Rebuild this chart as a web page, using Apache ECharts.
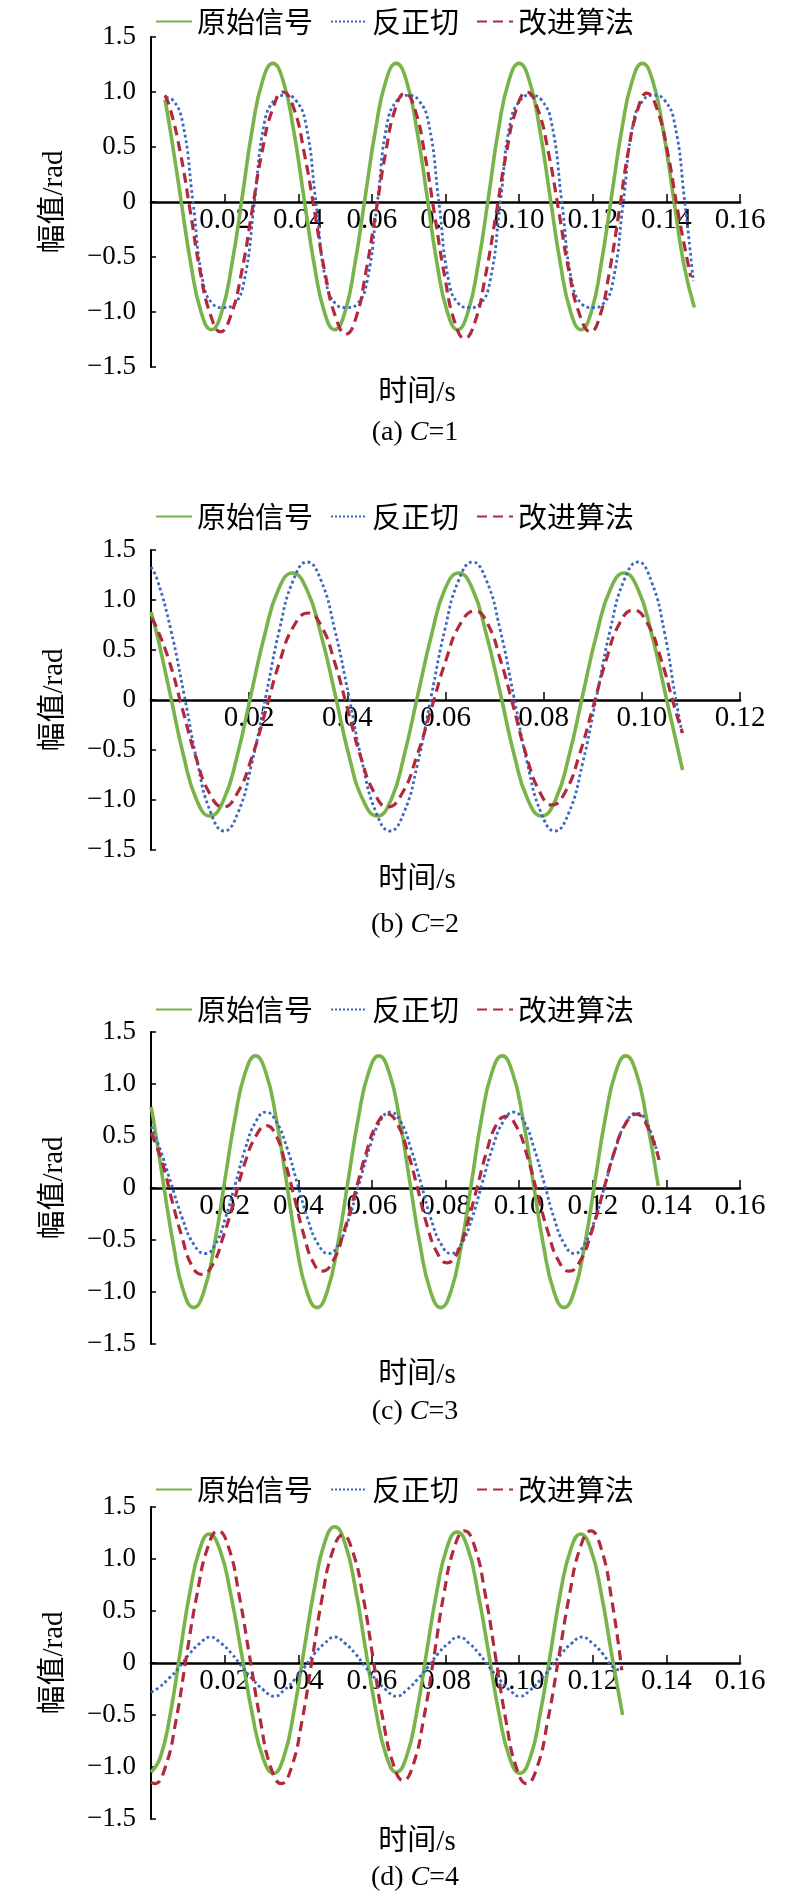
<!DOCTYPE html>
<html>
<head>
<meta charset="utf-8">
<script src="https://cdn.jsdelivr.net/npm/echarts@6.0.0/dist/echarts.min.js"></script>
<style>
html, body { margin: 0; padding: 0; background: #fff; }
#main { width: 800px; height: 1897px; }
</style>
</head>
<body>
<div id="main"></div>
<script>
// 图例名称
var names = ['原始信号', '反正切', '改进算法'];
var panelTags = ['a', 'b', 'c', 'd'];
var cValues = [1, 2, 3, 4];
var xMaxList = [0.16, 0.12, 0.16, 0.16];

// (a) C=1  [时间 s, 幅值 rad]
var origA = [[0.0038,0.93],[0.0052,0.66],[0.0080,0.05],[0.0108,-0.56],[0.0136,-1.00],[0.0164,-1.16],
  [0.0192,-1.00],[0.0220,-0.56],[0.0248,0.05],[0.0275,0.66],[0.0303,1.10],[0.0331,1.26],
  [0.0359,1.10],[0.0387,0.66],[0.0415,0.05],[0.0443,-0.56],[0.0471,-1.00],[0.0499,-1.16],
  [0.0527,-1.00],[0.0554,-0.56],[0.0582,0.05],[0.0610,0.66],[0.0638,1.10],[0.0666,1.26],
  [0.0694,1.10],[0.0722,0.66],[0.0750,0.05],[0.0777,-0.56],[0.0805,-1.00],[0.0833,-1.16],
  [0.0861,-1.00],[0.0889,-0.56],[0.0917,0.05],[0.0944,0.66],[0.0972,1.10],[0.1000,1.26],
  [0.1028,1.10],[0.1056,0.66],[0.1084,0.05],[0.1112,-0.56],[0.1140,-1.00],[0.1168,-1.16],
  [0.1196,-1.00],[0.1223,-0.56],[0.1251,0.05],[0.1279,0.66],[0.1307,1.10],[0.1335,1.26],
  [0.1363,1.10],[0.1391,0.66],[0.1419,0.05],[0.1447,-0.56],[0.1476,-0.96]];
var atanA = [[0.0040,0.95],[0.0058,0.93],[0.0086,0.72],[0.0114,0],[0.0141,-0.72],[0.0169,-0.93],[0.0197,-0.96],[0.0225,-0.93],
  [0.0253,-0.72],[0.0281,0],[0.0308,0.72],[0.0336,0.93],[0.0364,0.97],[0.0392,0.93],[0.0420,0.72],[0.0448,0],
  [0.0475,-0.72],[0.0503,-0.93],[0.0531,-0.96],[0.0559,-0.93],[0.0587,-0.72],[0.0615,0],[0.0642,0.72],[0.0670,0.93],
  [0.0698,0.97],[0.0726,0.93],[0.0754,0.72],[0.0782,0],[0.0809,-0.72],[0.0837,-0.93],[0.0865,-0.96],[0.0893,-0.93],
  [0.0921,-0.72],[0.0949,0],[0.0976,0.72],[0.1004,0.93],[0.1032,0.97],[0.1060,0.93],[0.1088,0.72],[0.1116,0],
  [0.1143,-0.72],[0.1171,-0.93],[0.1199,-0.96],[0.1227,-0.93],[0.1255,-0.72],[0.1283,0],[0.1310,0.72],[0.1338,0.93],
  [0.1366,0.97],[0.1394,0.93],[0.1422,0.72],[0.1450,0],[0.1473,-0.72]];
var impA = [[0.0038,0.97],[0.0052,0.85],[0.0079,0.46],[0.0107,-0.09],[0.0134,-0.64],[0.0162,-1.03],[0.0189,-1.18],
  [0.0217,-1.03],[0.0246,-0.64],[0.0274,-0.09],[0.0302,0.46],[0.0331,0.85],[0.0359,1.0],
  [0.0388,0.85],[0.0416,0.45],[0.0445,-0.10],[0.0473,-0.65],[0.0502,-1.05],[0.0530,-1.2],
  [0.0557,-1.05],[0.0583,-0.65],[0.0610,-0.11],[0.0637,0.44],[0.0663,0.84],[0.0690,0.99],
  [0.0717,0.84],[0.0744,0.43],[0.0771,-0.13],[0.0798,-0.68],[0.0825,-1.09],[0.0852,-1.24],
  [0.0880,-1.09],[0.0908,-0.68],[0.0937,-0.12],[0.0965,0.44],[0.0993,0.85],[0.1021,1.0],
  [0.1050,0.85],[0.1079,0.46],[0.1108,-0.09],[0.1136,-0.64],[0.1165,-1.03],[0.1194,-1.18],
  [0.1220,-1.03],[0.1245,-0.64],[0.1271,-0.10],[0.1296,0.45],[0.1322,0.84],[0.1347,0.99],
  [0.1375,0.84],[0.1404,0.44],[0.1432,-0.10],[0.1466,-0.68]];

// (b) C=2
var origB = [[0.0,0.88],[0.0012,0.66],[0.0039,0.06],[0.0066,-0.55],[0.0093,-1.0],[0.0120,-1.16],
  [0.0148,-1.0],[0.0176,-0.55],[0.0204,0.06],[0.0232,0.66],[0.0260,1.11],[0.0288,1.27],
  [0.0317,1.11],[0.0346,0.66],[0.0375,0.06],[0.0403,-0.55],[0.0432,-1.0],[0.0461,-1.16],
  [0.0489,-1.0],[0.0516,-0.55],[0.0544,0.06],[0.0572,0.66],[0.0599,1.11],[0.0627,1.27],
  [0.0655,1.11],[0.0683,0.66],[0.0712,0.06],[0.0740,-0.55],[0.0768,-1.0],[0.0796,-1.16],
  [0.0824,-1.0],[0.0852,-0.55],[0.0880,0.06],[0.0908,0.66],[0.0936,1.11],[0.0964,1.27],
  [0.0992,1.11],[0.1020,0.66],[0.1048,0.06],[0.1076,-0.55],[0.1083,-0.70]];
var atanB = [[0.0,1.33],[0.0013,1.20],[0.0040,0.71],[0.0068,0.04],[0.0095,-0.64],[0.0122,-1.13],[0.0149,-1.31],
  [0.0177,-1.13],[0.0205,-0.64],[0.0234,0.04],[0.0262,0.71],[0.0290,1.20],[0.0318,1.38],
  [0.0346,1.20],[0.0374,0.71],[0.0403,0.04],[0.0431,-0.64],[0.0459,-1.13],[0.0487,-1.31],
  [0.0515,-1.13],[0.0543,-0.64],[0.0571,0.04],[0.0599,0.71],[0.0627,1.20],[0.0655,1.38],
  [0.0683,1.20],[0.0711,0.71],[0.0739,0.04],[0.0767,-0.64],[0.0795,-1.13],[0.0823,-1.31],
  [0.0851,-1.13],[0.0879,-0.64],[0.0908,0.04],[0.0936,0.71],[0.0964,1.20],[0.0992,1.38],
  [0.1020,1.18],[0.1046,0.68],[0.1068,0.04],[0.1082,-0.33]];
var impB = [[0.0,0.82],[0.0009,0.75],[0.0037,0.39],[0.0064,-0.09],[0.0092,-0.58],[0.0119,-0.93],[0.0147,-1.07],
  [0.0176,-0.93],[0.0205,-0.58],[0.0234,-0.10],[0.0262,0.38],[0.0291,0.74],[0.0320,0.87],
  [0.0347,0.74],[0.0374,0.38],[0.0401,-0.10],[0.0428,-0.58],[0.0455,-0.93],[0.0482,-1.07],
  [0.0512,-0.93],[0.0541,-0.57],[0.0571,-0.09],[0.0601,0.40],[0.0630,0.76],[0.0660,0.89],
  [0.0686,0.76],[0.0712,0.40],[0.0739,-0.08],[0.0765,-0.56],[0.0791,-0.91],[0.0817,-1.05],
  [0.0845,-0.91],[0.0872,-0.56],[0.0900,-0.08],[0.0928,0.41],[0.0955,0.77],[0.0983,0.90],
  [0.1011,0.77],[0.1039,0.41],[0.1067,-0.08],[0.1083,-0.33]];

// (c) C=3
var origC = [[0.0,0.78],[0.0006,0.67],[0.0033,0.06],[0.0061,-0.55],[0.0088,-0.99],[0.0116,-1.15],
  [0.0144,-0.99],[0.0172,-0.55],[0.0200,0.06],[0.0228,0.67],[0.0256,1.11],[0.0284,1.27],
  [0.0312,1.11],[0.0340,0.67],[0.0368,0.06],[0.0395,-0.55],[0.0423,-0.99],[0.0451,-1.15],
  [0.0479,-0.99],[0.0507,-0.55],[0.0535,0.06],[0.0563,0.67],[0.0591,1.11],[0.0619,1.27],
  [0.0647,1.11],[0.0675,0.67],[0.0703,0.06],[0.0731,-0.55],[0.0759,-0.99],[0.0787,-1.15],
  [0.0815,-0.99],[0.0843,-0.55],[0.0871,0.06],[0.0898,0.67],[0.0926,1.11],[0.0954,1.27],
  [0.0982,1.11],[0.1010,0.67],[0.1038,0.06],[0.1066,-0.55],[0.1094,-0.99],[0.1122,-1.15],
  [0.1150,-0.99],[0.1178,-0.55],[0.1206,0.06],[0.1234,0.67],[0.1262,1.11],[0.1290,1.27],
  [0.1318,1.11],[0.1346,0.67],[0.1378,0.02]];
var atanC = [[0.0,0.59],[0.0023,0.39],[0.0054,0.05],[0.0085,-0.29],[0.0116,-0.54],[0.0147,-0.63],
  [0.0175,-0.54],[0.0202,-0.29],[0.0230,0.05],[0.0257,0.39],[0.0285,0.64],[0.0312,0.73],
  [0.0340,0.64],[0.0369,0.39],[0.0397,0.05],[0.0425,-0.29],[0.0454,-0.54],[0.0482,-0.63],
  [0.0510,-0.54],[0.0538,-0.29],[0.0566,0.05],[0.0594,0.39],[0.0622,0.64],[0.0650,0.73],
  [0.0678,0.64],[0.0705,0.39],[0.0733,0.05],[0.0760,-0.29],[0.0788,-0.54],[0.0815,-0.63],
  [0.0843,-0.54],[0.0872,-0.29],[0.0900,0.05],[0.0928,0.39],[0.0957,0.64],[0.0985,0.73],
  [0.1013,0.64],[0.1040,0.39],[0.1068,0.05],[0.1095,-0.29],[0.1123,-0.54],[0.1150,-0.63],
  [0.1178,-0.54],[0.1207,-0.29],[0.1235,0.05],[0.1263,0.39],[0.1292,0.64],[0.1320,0.72],
  [0.1348,0.62],[0.1380,0.27]];
var impC = [[0.0,0.53],[0.0004,0.50],[0.0031,0.24],[0.0057,-0.12],[0.0084,-0.47],[0.0110,-0.74],[0.0137,-0.83],
  [0.0167,-0.74],[0.0196,-0.47],[0.0226,-0.12],[0.0255,0.24],[0.0285,0.50],[0.0314,0.60],
  [0.0339,0.51],[0.0364,0.25],[0.0390,-0.10],[0.0415,-0.45],[0.0440,-0.71],[0.0465,-0.80],
  [0.0495,-0.70],[0.0524,-0.42],[0.0554,-0.05],[0.0584,0.33],[0.0613,0.61],[0.0643,0.71],
  [0.0670,0.61],[0.0697,0.35],[0.0724,0.0],[0.0750,-0.36],[0.0777,-0.62],[0.0804,-0.72],
  [0.0831,-0.63],[0.0857,-0.37],[0.0884,-0.02],[0.0911,0.34],[0.0937,0.60],[0.0964,0.69],
  [0.0993,0.59],[0.1021,0.32],[0.1050,-0.06],[0.1079,-0.43],[0.1107,-0.70],[0.1136,-0.80],
  [0.1166,-0.70],[0.1197,-0.42],[0.1227,-0.05],[0.1257,0.33],[0.1288,0.61],[0.1318,0.71],
  [0.1346,0.61],[0.1380,0.27]];

// (d) C=4
var origD = [[0.0,-1.05],[0.0026,-0.90],[0.0053,-0.48],[0.0079,0.10],[0.0105,0.67],[0.0132,1.09],[0.0158,1.24],
  [0.0187,1.09],[0.0216,0.67],[0.0246,0.09],[0.0275,-0.49],[0.0304,-0.91],[0.0333,-1.06],
  [0.0361,-0.90],[0.0388,-0.47],[0.0416,0.13],[0.0444,0.72],[0.0471,1.15],[0.0499,1.31],
  [0.0527,1.15],[0.0555,0.72],[0.0583,0.13],[0.0611,-0.46],[0.0639,-0.89],[0.0667,-1.05],
  [0.0694,-0.90],[0.0722,-0.47],[0.0749,0.11],[0.0776,0.68],[0.0804,1.11],[0.0831,1.26],
  [0.0860,1.11],[0.0888,0.68],[0.0917,0.10],[0.0945,-0.48],[0.0974,-0.91],[0.1002,-1.06],
  [0.1030,-0.91],[0.1057,-0.49],[0.1085,0.09],[0.1112,0.67],[0.1140,1.09],[0.1167,1.24],
  [0.1195,1.09],[0.1223,0.67],[0.1251,0.09],[0.1281,-0.50]];
var atanD = [[0.0,-0.28],[0.0020,-0.24],[0.0048,-0.15],[0.0077,-0.04],[0.0105,0.09],[0.0133,0.19],[0.0161,0.25],
  [0.0190,0.19],[0.0219,0.09],[0.0248,-0.04],[0.0277,-0.16],[0.0306,-0.26],[0.0335,-0.32],
  [0.0362,-0.26],[0.0390,-0.16],[0.0417,-0.04],[0.0444,0.09],[0.0472,0.19],[0.0499,0.25],
  [0.0527,0.19],[0.0555,0.09],[0.0583,-0.04],[0.0611,-0.16],[0.0639,-0.26],[0.0667,-0.32],
  [0.0695,-0.26],[0.0723,-0.16],[0.0752,-0.04],[0.0780,0.09],[0.0808,0.19],[0.0836,0.25],
  [0.0864,0.19],[0.0891,0.09],[0.0919,-0.04],[0.0947,-0.16],[0.0974,-0.26],[0.1002,-0.32],
  [0.1030,-0.26],[0.1058,-0.16],[0.1087,-0.04],[0.1115,0.09],[0.1143,0.19],[0.1171,0.25],
  [0.1199,0.19],[0.1227,0.09],[0.1255,-0.04],[0.1279,-0.07]];
var impD = [[0.0,-1.15],[0.0010,-1.16],[0.0039,-1.00],[0.0068,-0.55],[0.0096,0.06],[0.0125,0.66],[0.0154,1.11],[0.0182,1.27],
  [0.0211,1.11],[0.0239,0.66],[0.0268,0.06],[0.0297,-0.55],[0.0325,-1.00],[0.0354,-1.16],
  [0.0382,-1.00],[0.0410,-0.56],[0.0438,0.04],[0.0465,0.63],[0.0493,1.07],[0.0521,1.23],
  [0.0548,1.07],[0.0576,0.64],[0.0603,0.05],[0.0630,-0.54],[0.0658,-0.97],[0.0685,-1.13],
  [0.0713,-0.97],[0.0741,-0.53],[0.0769,0.07],[0.0796,0.67],[0.0824,1.11],[0.0852,1.27],
  [0.0880,1.11],[0.0908,0.66],[0.0936,0.06],[0.0964,-0.55],[0.0992,-1.00],[0.1020,-1.16],
  [0.1049,-1.00],[0.1078,-0.55],[0.1108,0.06],[0.1137,0.66],[0.1166,1.11],[0.1195,1.27],
  [0.1223,1.10],[0.1251,0.62],[0.1279,-0.07]];

var panelData = [
  [origA, atanA, impA],
  [origB, atanB, impB],
  [origC, atanC, impC],
  [origD, atanD, impD]
];

// 版面位置
var gridTops = [37, 550, 1032, 1507];
var gridHeights = [330, 300, 312, 312];
var legendTops = [2, 497, 990, 1470];
var xNameY = [393, 880, 1375, 1842];
var captionY = [433, 925, 1412, 1878];

var serif = "'Liberation Serif', 'Times New Roman', 'Noto Sans CJK SC', serif";
var cjk = "'Noto Sans CJK SC', sans-serif";
var colors = ['#79b44a', '#3a68c0', '#b1293b'];
var lineTypes = ['solid', 'dotted', [10, 6]];
var lineWidths = [3.6, 2.8, 3.2];

var myChart = echarts.init(document.getElementById('main'));

var grids = [], xAxes = [], yAxes = [], legends = [], series = [], graphics = [];

for (var i = 0; i < 4; i++) {
    grids.push({ left: 151, top: gridTops[i], width: 589, height: gridHeights[i] });
    // x 轴放在 y=0 处（y 轴对称，所以在中间）
    xAxes.push({
        gridIndex: i,
        type: 'value',
        position: 'bottom',
        offset: -gridHeights[i] / 2,
        min: 0,
        max: xMaxList[i],
        interval: 0.02,
        axisLine: { onZero: false, lineStyle: { color: '#000', width: 2.6 } },
        axisTick: { inside: true, length: 8, lineStyle: { color: '#000', width: 1.5 } },
        axisLabel: {
            margin: 4,
            fontFamily: serif,
            fontSize: 29,
            color: '#000',
            formatter: function (v) { return v === 0 ? '' : v.toFixed(2); }
        },
        splitLine: { show: false }
    });
    yAxes.push({
        gridIndex: i,
        type: 'value',
        min: -1.5,
        max: 1.5,
        interval: 0.5,
        name: '幅值/rad',
        nameLocation: 'middle',
        nameGap: 82,
        nameTextStyle: { fontFamily: serif, fontSize: 29, color: '#000' },
        axisLine: { show: true, lineStyle: { color: '#000', width: 2 } },
        axisTick: { show: true, inside: true, length: 5, lineStyle: { color: '#000', width: 1.5 } },
        axisLabel: {
            margin: 15,
            fontFamily: serif,
            fontSize: 27,
            color: '#000',
            formatter: function (v) {
                if (Math.abs(v) < 1e-9) return '0';
                return (v < 0 ? '\u2212' : '') + Math.abs(v).toFixed(1);
            }
        },
        splitLine: { show: false }
    });
    legends.push({
        left: 150,
        top: legendTops[i],
        itemWidth: 36,
        itemHeight: 6,
        itemGap: 17,
        data: names,
        selectedMode: false,
        itemStyle: { opacity: 0 },
        textStyle: { fontFamily: cjk, fontSize: 29, color: '#000' }
    });
    for (var k = 0; k < 3; k++) {
        series.push({
            name: names[k],
            type: 'line',
            xAxisIndex: i,
            yAxisIndex: i,
            data: panelData[i][k],
            smooth: true,
            symbol: 'none',
            showSymbol: false,
            color: colors[k],
            lineStyle: { color: colors[k], width: lineWidths[k], type: lineTypes[k] },
            animation: false
        });
    }
    graphics.push({
        type: 'text',
        x: 417,
        y: xNameY[i],
        style: {
            text: '时间/s',
            fontFamily: serif,
            fontSize: 29,
            fill: '#000',
            align: 'center',
            verticalAlign: 'middle'
        }
    });
    graphics.push({
        type: 'text',
        x: 415,
        y: captionY[i],
        style: {
            text: '(' + panelTags[i] + ') {i|C}=' + cValues[i],
            fontFamily: serif,
            fontSize: 28,
            fill: '#000',
            align: 'center',
            verticalAlign: 'middle',
            rich: { i: { fontFamily: serif, fontSize: 28, fontStyle: 'italic', fill: '#000' } }
        }
    });
}

var option = {
    backgroundColor: '#fff',
    animation: false,
    grid: grids,
    xAxis: xAxes,
    yAxis: yAxes,
    legend: legends,
    series: series,
    graphic: graphics
};

myChart.setOption(option);

window.onresize = function () {
    myChart.resize();
};
</script>
</body>
</html>
